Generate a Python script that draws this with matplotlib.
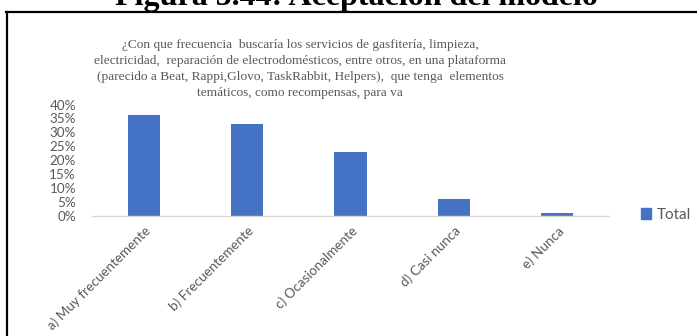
import numpy as np
import matplotlib
matplotlib.use("Agg")
from matplotlib import pyplot as plt
from matplotlib.lines import Line2D
from matplotlib.patches import Patch

# data
categorias = ["a) Muy frecuentemente", "b) Frecuentemente", "c) Ocasionalmente",
              "d) Casi nunca", "e) Nunca"]
porcentajes = [0.363, 0.329, 0.229, 0.062, 0.012]
y_ticks = [0, 0.05, 0.10, 0.15, 0.20, 0.25, 0.30, 0.35, 0.40]

titulo_fig = "Figura 5.44: Aceptación del modelo"
titulo_graf = ("¿Con que frecuencia  buscaría los servicios de gasfitería, limpieza,\n"
               "electricidad,  reparación de electrodomésticos, entre otros, en una plataforma\n"
               "(parecido a Beat, Rappi,Glovo, TaskRabbit, Helpers),  que tenga  elementos\n"
               "temáticos, como recompensas, para va")

W, H = 697, 336
gris = "#595959"
azul = "#4472C4"

fig = plt.figure(figsize=(W / 100, H / 100), dpi=100)
fig.patch.set_facecolor("white")

# page title, cut at the top of the screenshot
fig.text(356 / W, 1 - 5.5 / H, titulo_fig, ha="center", va="baseline",
         fontsize=23, fontweight="bold", family="Liberation Serif", color="black")

# frame of the chart box (top and left edges visible)
fig.add_artist(Line2D([6 / W, 1], [1 - 11.5 / H, 1 - 11.5 / H], transform=fig.transFigure,
                      color="black", lw=1.6))
fig.add_artist(Line2D([7 / W, 7 / W], [0, 1 - 11.5 / H], transform=fig.transFigure,
                      color="black", lw=1.6))

# chart title
fig.text(300 / W, 1 - 69 / H, titulo_graf, ha="center", va="center",
         fontsize=9.6, family="Liberation Serif", color=gris, linespacing=1.42)

ax = fig.add_axes([92 / W, 1 - 216 / H, (609 - 92) / W, (216 - 104.5) / H])
x = np.arange(len(categorias))
ax.bar(x, porcentajes, width=0.31, color=azul, label="Total")
ax.set_xlim(-0.5, len(categorias) - 0.5)
ax.set_ylim(0, 0.40)
ax.set_yticks(y_ticks)
ax.set_yticklabels([f"{int(round(v * 100))}%" for v in y_ticks])
ax.set_xticks(x)
ax.set_xticklabels(categorias, rotation=45, ha="right", rotation_mode="anchor")
ax.tick_params(axis="both", length=0, colors=gris, labelsize=9.7)
ax.tick_params(axis="y", pad=11.5)
ax.tick_params(axis="x", pad=6)
for lbl in ax.get_xticklabels() + ax.get_yticklabels():
    lbl.set_family("Lato")
for s in ["top", "right", "left"]:
    ax.spines[s].set_visible(False)
ax.spines["bottom"].set_color("#D9D9D9")
ax.spines["bottom"].set_linewidth(1.0)

fig.legend(handles=[Patch(color=azul, label="Total")], loc="center left",
           bbox_to_anchor=(627 / W, 1 - 215 / H), frameon=False,
           handlelength=0.7, handleheight=0.7, handletextpad=0.35,
           prop={"family": "Lato", "size": 11}, labelcolor=gris)

fig.savefig("out.png", dpi=100)
